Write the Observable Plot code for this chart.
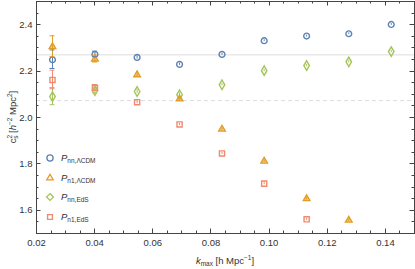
<!DOCTYPE html>
<html>
<head>
<meta charset="utf-8">
<script src="https://cdn.jsdelivr.net/npm/d3@7"></script>
<script src="https://cdn.jsdelivr.net/npm/@observablehq/plot@0.6"></script>
<style>
  html, body { margin: 0; padding: 0; background: #fff; }
  #wrap { position: relative; width: 415px; height: 269px; font-family: "Liberation Sans", Arial, sans-serif; }
  .lbl { position: absolute; font-size: 9.5px; color: #333; white-space: nowrap; }
  .lbl sub, .lbl sup { font-size: 6.5px; }
  .lbl sub { vertical-align: -2px; }
  .lbl sup { vertical-align: 4px; }
  #legend { position: absolute; left: 44px; top: 148px; font-size: 9.5px; color: #333; }
  #legend .row { display: flex; align-items: center; height: 19.7px; }
  #legend svg { width: 12px; height: 12px; margin-right: 5px; }
  #legend sub { font-size: 6.5px; vertical-align: -2px; }
</style>
</head>
<body>
<div id="wrap"></div>
<script>
const kmax = [0.0255, 0.0401, 0.0546, 0.0692, 0.0838, 0.0983, 0.1129, 0.1274, 0.1420];
const nnLCDM = [2.249, 2.272, 2.259, 2.229, 2.272, 2.331, 2.351, 2.361, 2.401];
const nnLCDMerr = [0.040, 0.012, 0.007, 0.005, 0.004, 0.004, 0.004, 0.004, 0.004];
const n1LCDM = [2.305, 2.252, 2.184, 2.080, 1.950, 1.812, 1.650, 1.557];
const n1LCDMerr = [0.045, 0.015, 0.008, 0.006, 0.005, 0.005, 0.005, 0.005];
const nnEdS = [2.090, 2.116, 2.112, 2.098, 2.141, 2.202, 2.224, 2.240, 2.284];
const nnEdSerr = [0.037, 0.012, 0.008, 0.008, 0.005, 0.005, 0.005, 0.005, 0.005];
const n1EdS = [2.162, 2.128, 2.066, 1.970, 1.845, 1.715, 1.561];
const n1EdSerr = [0.040, 0.012, 0.006, 0.005, 0.005, 0.005, 0.005];
const refSolid = [2.270];
const refDashed = [2.073];
const xTicks = [0.02, 0.04, 0.06, 0.08, 0.10, 0.12, 0.14];
const yTicks = [1.6, 1.8, 2.0, 2.2, 2.4];
const xMinor = d3.range(0.02, 0.1501, 0.005);
const yMinor = d3.range(1.5, 2.5001, 0.05);

const seriesDefs = [
  {name: "nn,ΛCDM", sub: "nn,ΛCDM", vals: nnLCDM, errs: nnLCDMerr, symbol: "circle", color: "#5e81b5"},
  {name: "n1,ΛCDM", sub: "n1,ΛCDM", vals: n1LCDM, errs: n1LCDMerr, symbol: "triangle", color: "#e19c24"},
  {name: "nn,EdS", sub: "nn,EdS", vals: nnEdS, errs: nnEdSerr, symbol: "diamond", color: "#a4c45a"},
  {name: "n1,EdS", sub: "n1,EdS", vals: n1EdS, errs: n1EdSerr, symbol: "square", color: "#f08a6e"}
];

const rows = seriesDefs.flatMap(s => s.vals.map((v, i) => ({k: kmax[i], v, e: s.errs[i], s: s.name, symbol: s.symbol, color: s.color})));
const triRows = rows.filter(d => d.symbol === "triangle");
const otherRows = rows.filter(d => d.symbol !== "triangle");

const frameColor = "#444";
const plot = Plot.plot({
  width: 415,
  height: 269,
  marginLeft: 36,
  marginRight: 1,
  marginTop: 1,
  marginBottom: 36,
  style: {fontFamily: "Liberation Sans, Arial, sans-serif", fontSize: "9.5px", color: "#333", background: "#fff"},
  x: {type: "linear", domain: [0.02, 0.15]},
  y: {type: "linear", domain: [1.5, 2.5]},
  marks: [
    Plot.ruleY(refSolid, {stroke: "#ddd", strokeWidth: 1}),
    Plot.ruleY(refDashed, {stroke: "#ddd", strokeWidth: 1, strokeDasharray: "4,3"}),
    Plot.axisX(xTicks, {anchor: "bottom", tickSize: 0, tickPadding: 6, tickFormat: d3.format(".2f"), label: null, fill: "#333"}),
    Plot.axisY(yTicks, {anchor: "left", tickSize: 0, tickPadding: 4, tickFormat: d3.format(".1f"), label: null, fill: "#333"}),
    Plot.frame({stroke: frameColor, strokeWidth: 1}),
    Plot.ruleX(rows, {x: "k", y1: d => d.v - d.e, y2: d => d.v + d.e, stroke: "color", strokeWidth: 1}),
    Plot.dot(otherRows, {x: "k", y: "v", symbol: "symbol", stroke: "color", fill: "none", strokeWidth: 1.4, r: 2.9}),
    Plot.dot(triRows, {x: "k", y: "v", symbol: "triangle", stroke: "color", fill: "color", fillOpacity: 0.55, strokeWidth: 1.3, r: 2.5})
  ]
});
document.getElementById("wrap").appendChild(plot);

// inward frame ticks and error-bar caps, positioned through the plot's scales
{
  const xs = plot.scale("x"), ys = plot.scale("y");
  const svg = d3.select(plot);
  const [x0, x1] = xs.range, [y0, y1] = ys.range;
  const g = svg.append("g").attr("stroke", frameColor).attr("stroke-width", 1);
  const addX = (vals, len) => vals.forEach(v => {
    const px = Math.round(xs.apply(v)) + 0.5;
    g.append("line").attr("x1", px).attr("x2", px).attr("y1", y0).attr("y2", y0 - len);
    g.append("line").attr("x1", px).attr("x2", px).attr("y1", y1).attr("y2", y1 + len);
  });
  const addY = (vals, len) => vals.forEach(v => {
    const py = Math.round(ys.apply(v)) + 0.5;
    g.append("line").attr("y1", py).attr("y2", py).attr("x1", x0).attr("x2", x0 + len);
    g.append("line").attr("y1", py).attr("y2", py).attr("x1", x1).attr("x2", x1 - len);
  });
  addX(xMinor, 2.5); addX(xTicks, 4.5);
  addY(yMinor, 2.5); addY(yTicks, 4.5);
  const gc = svg.append("g");
  rows.filter(d => d.e > 0.01).forEach(d => {
    [d.v - d.e, d.v + d.e].forEach(yy => {
      gc.append("line").attr("x1", xs.apply(d.k) - 2.5).attr("x2", xs.apply(d.k) + 2.5)
        .attr("y1", ys.apply(yy)).attr("y2", ys.apply(yy))
        .attr("stroke", d.color).attr("stroke-width", 1);
    });
  });
}

const wrap = document.getElementById("wrap");
const yl = document.createElement("div");
yl.className = "lbl";
yl.innerHTML = 'c<sup style="margin-right:-4px">2</sup><sub>s</sub> [<i>h</i><sup>−2</sup> Mpc<sup>2</sup>]';
yl.style.left = "12px";
yl.style.top = "117px";
yl.style.transform = "translate(-50%,-50%) rotate(-90deg)";
wrap.appendChild(yl);

const xl = document.createElement("div");
xl.className = "lbl";
xl.innerHTML = '<i>k</i><sub>max</sub> [h Mpc<sup>−1</sup>]';
xl.style.left = "225px";
xl.style.top = "260px";
xl.style.transform = "translate(-50%,-50%)";
wrap.appendChild(xl);

const legend = document.createElement("div");
legend.id = "legend";
const symPaths = {circle: d3.symbolCircle, triangle: d3.symbolTriangle, diamond: d3.symbolDiamond2, square: d3.symbolSquare2};
seriesDefs.forEach(s => {
  const row = document.createElement("div");
  row.className = "row";
  const path = d3.symbol(symPaths[s.symbol], s.symbol === "triangle" ? 18 : 30)();
  row.innerHTML = `<svg viewBox="-6 -6 12 12"><path d="${path}" fill="none" stroke="${s.color}" stroke-width="1.3"/></svg><span><i>P</i><sub>${s.sub}</sub></span>`;
  legend.appendChild(row);
});
wrap.appendChild(legend);
</script>
</body>
</html>
